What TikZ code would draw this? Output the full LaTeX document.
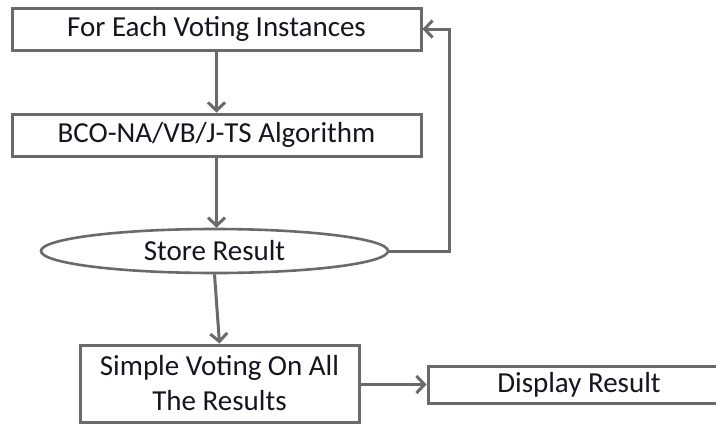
\documentclass[tikz,border=0pt]{standalone}
\usepackage{fontspec}
\setmainfont{Carlito}
\usetikzlibrary{arrows.meta,shapes.geometric}
\definecolor{edge}{HTML}{6A6A6A}
\definecolor{ink}{HTML}{15151F}
\begin{document}
\begin{tikzpicture}[x=1pt,y=-1pt,
  every node/.style={font=\fontsize{29}{35}\selectfont, text=ink},
  stepbox/.style={draw=edge, line width=3pt, rectangle, inner sep=0pt, fill=white},
  roundbox/.style={draw=edge, line width=2.6pt, ellipse, inner sep=0pt, fill=white},
  flow/.style={draw=edge, line width=3pt, -{Straight Barb[length=8pt,width=17pt,line width=3pt]}}]
  \useasboundingbox (0,0) rectangle (716,424);
  \clip (0,0) rectangle (716,424);
  \fill[white] (0,0) rectangle (716,424);

  \node[stepbox, minimum width=409pt, minimum height=42pt] (inst) at (216.5,29) {For Each Voting Instances};
  \node[stepbox, minimum width=409pt, minimum height=42pt] (algo) at (216.5,135) {BCO-NA/VB/J-TS Algorithm};
  \node[roundbox, minimum width=347pt, minimum height=44pt] (store) at (214.5,251) {Store Result};
  \node[stepbox, minimum width=279pt, minimum height=77pt, align=center] (vote) at (219.5,383.5) {Simple Voting On All\\The Results};
  \node[stepbox, minimum width=302pt, minimum height=37pt] (show) at (579,384.5) {Display Result};
  \coordinate (loop) at (449,0);

  \draw[flow] (inst.south) -- (algo.north);
  \draw[flow] (algo.south) -- (algo.south |- store.north);
  \draw[flow] (store.east) -- (store.east -| loop) |- (inst.east);
  \draw[flow] (store.south) -- (vote.north);
  \draw[flow] (vote.east |- show.west) -- (show.west);
\end{tikzpicture}
\end{document}
